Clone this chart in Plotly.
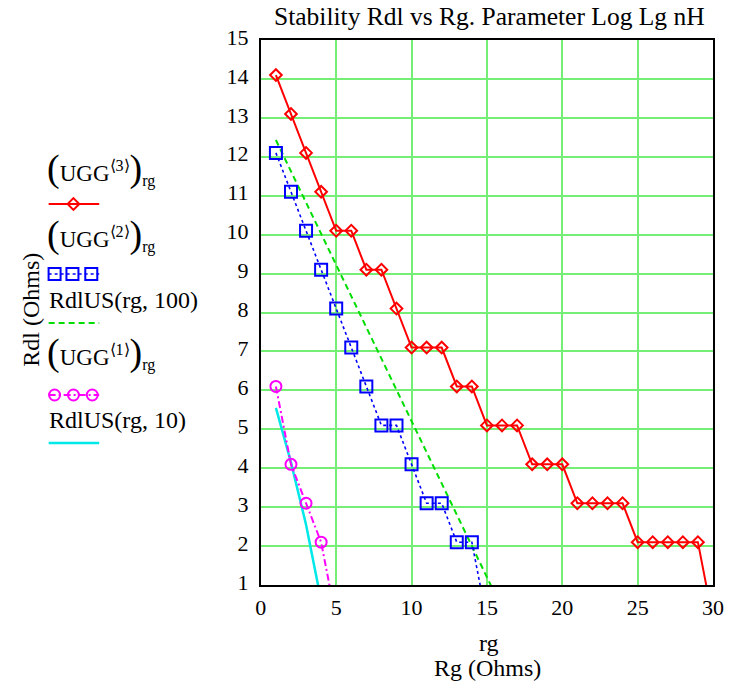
import plotly.graph_objects as go

# ---- data -------------------------------------------------------------
rg_ugg3 = list(range(1, 31))
ugg3 = [14.1, 13.1, 12.1, 11.1, 10.1, 10.1, 9.1, 9.1, 8.1, 7.1,
        7.1, 7.1, 6.1, 6.1, 5.1, 5.1, 5.1, 4.1, 4.1, 4.1,
        3.1, 3.1, 3.1, 3.1, 2.1, 2.1, 2.1, 2.1, 2.1, 0.1]

rg_ugg2 = list(range(1, 16))
ugg2 = [12.1, 11.1, 10.1, 9.1, 8.1, 7.1, 6.1, 5.1, 5.1, 4.1,
        3.1, 3.1, 2.1, 2.1, 0.1]

rg_ugg1 = [1, 2, 3, 4, 5]
ugg1 = [6.1, 4.1, 3.1, 2.1, 0.1]

rg_us100 = [1, 5, 10, 15, 16]
rdlus100 = [12.43, 9.22, 5.21, 1.2, 0.4]

rg_us10 = [1, 2, 3, 4]
rdlus10 = [5.55, 4.15, 2.55, 0.6]

x_ticks = [0, 5, 10, 15, 20, 25, 30]
y_ticks = list(range(1, 16))

# ---- styling ----------------------------------------------------------
W, H = 731, 687
PL, PR, PT, PB = 257, 713, 40, 585      # plot frame in pixels
SERIF = "Liberation Serif"
GRID = "#74ee74"

RED = "#ff0000"
BLUE = "#0000ff"
GREEN = "#00dd00"
MAGENTA = "#ff00ff"
CYAN = "#00e8e8"


def py(pixel_y):
    """Paper y fraction for a pixel row of the page."""
    return (PB - pixel_y) / (PB - PT)


def px(pixel_x):
    """Paper x fraction for a pixel column of the page."""
    return pixel_x / PR


fig = go.Figure()

# main series
fig.add_trace(go.Scatter(
    x=rg_us10, y=rdlus10, mode="lines",
    line=dict(color=CYAN, width=2.5), xaxis="x", yaxis="y"))
fig.add_trace(go.Scatter(
    x=rg_ugg1, y=ugg1, mode="lines+markers",
    line=dict(color=MAGENTA, width=2, dash="7px,3px,2px,3px"),
    marker=dict(symbol="circle-open", size=11, color=MAGENTA,
                line=dict(width=2, color=MAGENTA)),
    xaxis="x", yaxis="y"))
fig.add_trace(go.Scatter(
    x=rg_us100, y=rdlus100, mode="lines",
    line=dict(color=GREEN, width=2, dash="6px,4px"), xaxis="x", yaxis="y"))
fig.add_trace(go.Scatter(
    x=rg_ugg2, y=ugg2, mode="lines+markers",
    line=dict(color=BLUE, width=1.6, dash="dot"),
    marker=dict(symbol="square-open", size=12, color=BLUE,
                line=dict(width=2, color=BLUE)),
    xaxis="x", yaxis="y"))
fig.add_trace(go.Scatter(
    x=rg_ugg3, y=ugg3, mode="lines+markers",
    line=dict(color=RED, width=2),
    marker=dict(symbol="diamond-open", size=9, color=RED,
                line=dict(width=2, color=RED)),
    xaxis="x", yaxis="y"))

# ---- legend block (pixel coordinates on a hidden axis pair) ----------
LX0, LX1 = 43, 94
leg_samples = [
    # (y, color, width, dash, symbol, marker xs)
    (204, RED, 2, "solid", "diamond-open", [68]),
    (274, BLUE, 1.6, "dot", "square-open", [49, 67, 86]),
    (323, GREEN, 2, "6px,4px", None, []),
    (395, MAGENTA, 2, "7px,3px,2px,3px", "circle-open", [49, 68, 87]),
    (443, CYAN, 2.5, "solid", None, []),
]
msize = {"diamond-open": 9, "square-open": 12, "circle-open": 11}
for y, col, w, dash, sym, mxs in leg_samples:
    fig.add_trace(go.Scatter(
        x=[LX0, LX1], y=[y, y], mode="lines",
        line=dict(color=col, width=w, dash=dash),
        xaxis="x2", yaxis="y2", cliponaxis=False))
    if sym:
        fig.add_trace(go.Scatter(
            x=mxs, y=[y] * len(mxs), mode="markers",
            marker=dict(symbol=sym, size=msize[sym], color=col,
                        line=dict(width=2, color=col)),
            xaxis="x2", yaxis="y2", cliponaxis=False))


def ugg_label(n):
    big = '<span style="font-size:38px">'
    return (f'{big}(</span>UGG<sup>⟨{n}⟩</sup>{big})</span>'
            '<sub>rg</sub>')


leg_texts = [
    # (x, y, text, size)
    (39, 169, ugg_label(3), 23),
    (39, 235, ugg_label(2), 23),
    (41, 300, "RdlUS(rg, 100)", 24),
    (39, 352, ugg_label(1), 23),
    (41, 420, "RdlUS(rg, 10)", 24),
]
annotations = []
for x, y, t, s in leg_texts:
    annotations.append(dict(
        x=px(x), y=py(y), xref="paper", yref="paper", text=t,
        showarrow=False, xanchor="left", yanchor="middle",
        font=dict(family=SERIF, size=s, color="black")))

# y-axis title
annotations.append(dict(
    x=px(25), y=py(310), xref="paper", yref="paper",
    text="Rdl (Ohms)", showarrow=False, textangle=-90,
    xanchor="center", yanchor="middle",
    font=dict(family=SERIF, size=24, color="black")))

# x-axis title, two lines
annotations.append(dict(
    x=px(487), y=py(643), xref="paper", yref="paper",
    text="rg", showarrow=False, xanchor="center", yanchor="middle",
    font=dict(family=SERIF, size=24, color="black")))
annotations.append(dict(
    x=px(486), y=py(668), xref="paper", yref="paper",
    text="Rg (Ohms)", showarrow=False, xanchor="center", yanchor="middle",
    font=dict(family=SERIF, size=24, color="black")))

# chart title
annotations.append(dict(
    x=px(488), y=py(16), xref="paper", yref="paper",
    text="Stability Rdl vs Rg. Parameter Log Lg nH", showarrow=False,
    xanchor="center", yanchor="middle",
    font=dict(family=SERIF, size=25.5, color="black")))

TICKFONT = dict(family=SERIF, size=22, color="black")
axis_common = dict(
    showgrid=True, gridcolor=GRID, gridwidth=1.5,
    showline=True, linecolor="black", linewidth=2, mirror=True,
    zeroline=False, ticks="",
)

fig.update_layout(
    width=W, height=H, autosize=False,
    font=dict(family=SERIF, size=22, color="black"),
    margin=dict(l=0, r=W - PR, t=PT, b=H - PB, pad=0),
    paper_bgcolor="white", plot_bgcolor="white",
    showlegend=False,
    xaxis=dict(domain=[PL / PR, 1], range=[0, 30],
               tickvals=x_ticks, ticktext=[str(v) for v in x_ticks],
               tickfont=TICKFONT, ticklabelstandoff=2,
               anchor="y", **axis_common),
    yaxis=dict(domain=[0, 1], range=[1, 15],
               tickvals=y_ticks, ticktext=[str(v) for v in y_ticks],
               tickfont=TICKFONT, ticklabelstandoff=6, ticklabelshift=-3,
               anchor="x", **axis_common),
    xaxis2=dict(domain=[0, PL / PR], range=[0, PL], visible=False,
                anchor="y2", fixedrange=True),
    yaxis2=dict(domain=[0, 1], range=[PB, PT], visible=False,
                anchor="x2", fixedrange=True),
    annotations=annotations,
)

fig.write_html("out.html")
